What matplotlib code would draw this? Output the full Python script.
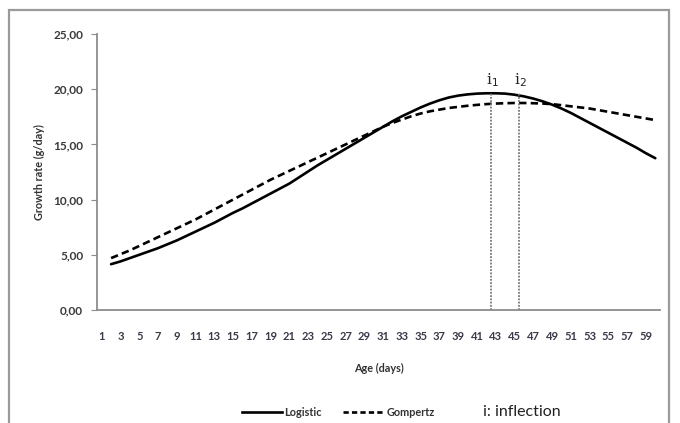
import matplotlib
matplotlib.use("Agg")
import matplotlib.pyplot as plt
from matplotlib.patches import Rectangle
from matplotlib.lines import Line2D

days = list(range(2, 61))
logistic = [4.15, 4.4, 4.7, 5.0, 5.3, 5.6, 5.95, 6.3, 6.7, 7.1,
            7.5, 7.9, 8.35, 8.8, 9.2, 9.65, 10.1, 10.55, 11.0, 11.45,
            12.0, 12.55, 13.1, 13.6, 14.1, 14.6, 15.1, 15.6, 16.1, 16.6,
            17.1, 17.55, 17.95, 18.35, 18.7, 19.0, 19.25, 19.42, 19.53, 19.6,
            19.63, 19.63, 19.6, 19.5, 19.35, 19.15, 18.9, 18.6, 18.25, 17.85,
            17.4, 16.95, 16.5, 16.05, 15.6, 15.15, 14.7, 14.2, 13.75]
gompertz = [4.7, 5.05, 5.4, 5.8, 6.2, 6.6, 7.0, 7.4, 7.8, 8.2,
            8.65, 9.1, 9.55, 10.0, 10.45, 10.9, 11.35, 11.8, 12.2, 12.6,
            13.0, 13.4, 13.8, 14.2, 14.6, 15.0, 15.4, 15.8, 16.2, 16.6,
            16.95, 17.25, 17.55, 17.8, 18.0, 18.15, 18.3, 18.4, 18.5, 18.58,
            18.65, 18.7, 18.73, 18.75, 18.75, 18.73, 18.7, 18.65, 18.55, 18.45,
            18.35, 18.25, 18.1, 17.95, 17.8, 17.65, 17.5, 17.35, 17.2]
x_ticks = list(range(1, 60, 2))
y_ticks = [0, 5, 10, 15, 20, 25]
y_tick_labels = ["0,00", "5,00", "10,00", "15,00", "20,00", "25,00"]
inflections = [42.5, 45.5]
inflection_labels = ["i$_1$", "i$_2$"]
inflection_top = 19.7

plt.rcParams['font.family'] = ['Lato', 'DejaVu Sans']

W, H = 680, 423
fig = plt.figure(figsize=(6.8, 4.23), dpi=100)
fig.patch.set_facecolor('white')

# outer frame
fig.patches.append(Rectangle((9 / W, -0.05), (669 - 9) / W, 1.05 - 10 / H,
                             transform=fig.transFigure, fill=False,
                             edgecolor='#9a9a9a', linewidth=1.6))

ax = fig.add_axes([97 / W, 1 - 310 / H, (660 - 97) / W, (310 - 34) / H])
ax.set_xlim(0.5, 60.5)
ax.set_ylim(0, 25)

ax.plot(days, logistic, color='black', lw=1.9, solid_capstyle='round')
ax.plot(days, gompertz, color='black', lw=1.9, linestyle=(0, (2.8, 1.6)))

for xi, lab in zip(inflections, inflection_labels):
    ax.plot([xi, xi], [0, inflection_top], color='#777777', lw=1.3,
            linestyle=(0, (1, 0.8)))
    ax.text(xi + 0.15, 20.8, lab, ha='center', va='center', fontsize=11,
            family='DejaVu Serif', color='#222222')

for side in ['top', 'right']:
    ax.spines[side].set_visible(False)
for side in ['left', 'bottom']:
    ax.spines[side].set_color('#8c8c8c')
    ax.spines[side].set_linewidth(1.3)

ax.set_xticks(x_ticks)
ax.set_xticklabels([str(t) for t in x_ticks], fontsize=8, color='#3a3a48',
                   fontweight='bold')
ax.tick_params(axis='x', length=0, pad=15)
ax.set_yticks(y_ticks)
ax.set_yticklabels(y_tick_labels, fontsize=8.5, color='#3a3a3a', fontweight='bold')
ax.tick_params(axis='y', length=4, color='#8c8c8c', pad=6)

ax.set_xlabel("Age (days)", fontsize=7.8, fontweight='bold', color='#333333', labelpad=15)
ax.set_ylabel("Growth rate (g/day)", fontsize=7.8, fontweight='bold', color='#333333', labelpad=6)

# legend drawn as figure artists
ly = 1 - 412 / H
fig.add_artist(Line2D([242 / W, 282 / W], [ly, ly], color='black', lw=1.9,
                      transform=fig.transFigure))
fig.text(284 / W, ly, "Logistic", fontsize=7.8, va='center', ha='left',
         color='#333333', fontweight='bold')
fig.add_artist(Line2D([343 / W, 385 / W], [ly, ly], color='black', lw=1.9,
                      linestyle=(0, (2.0, 1.2)), transform=fig.transFigure))
fig.text(387 / W, ly, "Gompertz", fontsize=7.8, va='center', ha='left',
         color='#333333', fontweight='bold')
fig.text(483 / W, ly, "i: inflection", fontsize=11.5, va='center', ha='left', color='#222222')

fig.savefig("out.png", dpi=100, facecolor='white')
